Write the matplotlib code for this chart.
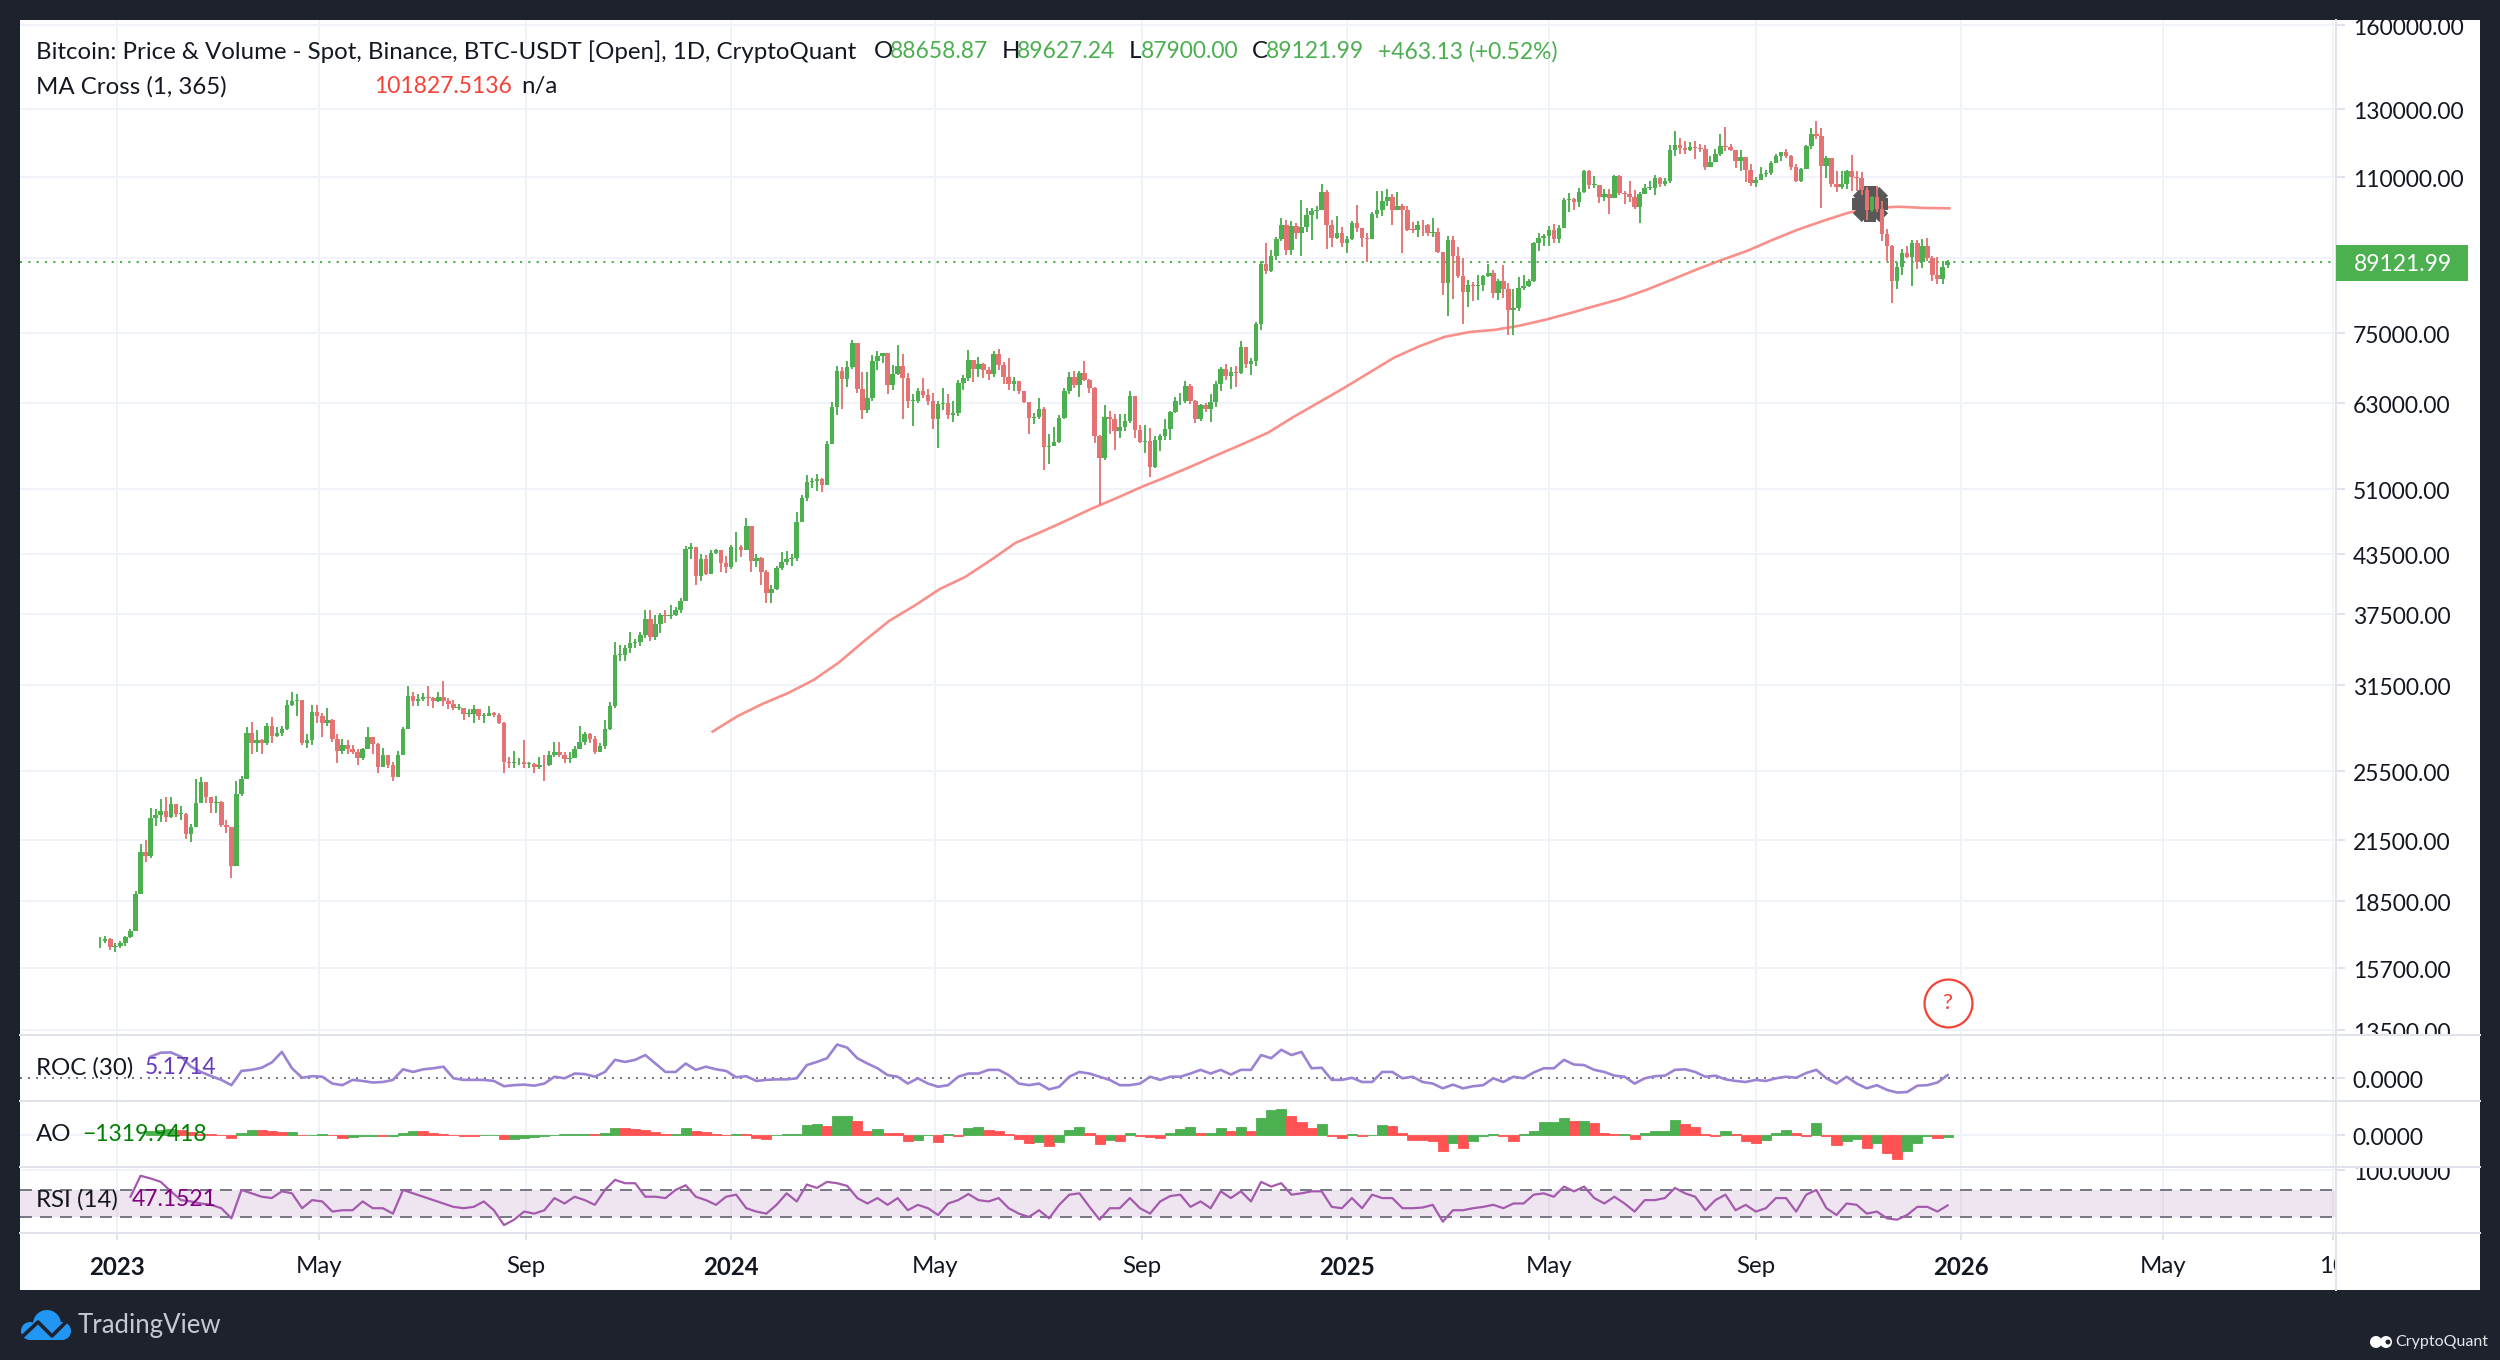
import numpy as np
import pandas as pd
import matplotlib
matplotlib.use("Agg")
import matplotlib.pyplot as plt
from matplotlib.patches import Rectangle, Circle
from matplotlib.lines import Line2D
from matplotlib.transforms import Affine2D, Bbox

# ---------- data (prices in thousands of USD, sampled every 3 days from the picture) ----------
first_day = "2022-12-22"
close_k = [16.8,16.85,16.55,16.6,
 16.7,16.95,17.2,18.85,20.9,20.7,22.7,22.9,23.1,22.8,
 23.5,22.95,22.95,21.85,22.2,23.6,24.8,23.9,23.55,
 23.65,22.35,22.2,20.2,24.1,25.0,28.0,27.3,27.5,27.3,28.5,
 27.8,28.0,28.3,30.0,30.3,30.4,27.3,27.5,29.5,29.2,
 28.7,28.9,27.6,26.8,27.2,26.9,26.75,26.3,26.9,27.7,
 27.25,25.75,26.5,25.9,25.1,26.5,28.3,30.7,30.3,30.45,
 30.6,30.5,30.3,30.6,30.3,30.1,29.8,29.8,29.35,29.35,
 29.7,29.2,29.2,29.4,29.3,28.7,26.05,26.0,26.05,26.1,25.95,
 25.95,25.75,25.9,25.85,26.55,26.75,26.55,26.25,26.35,26.95,
 27.4,27.95,27.6,26.75,27.15,28.3,29.9,33.9,33.9,34.5,
 34.9,35.0,35.6,37.1,35.5,36.6,37.45,37.3,37.45,37.85,
 38.7,44.0,44.2,41.2,43.0,41.4,43.6,43.9,42.5,42.1,
 44.2,44.2,43.9,46.6,42.8,43.1,41.6,39.5,39.9,42.0,42.6,
 43.0,43.1,47.1,49.9,51.9,52.1,52.3,51.6,57.0,
 62.4,68.3,66.9,68.9,73.1,65.3,62.0,63.8,69.9,70.8,71.3,
 65.9,67.8,69.1,67.1,63.4,63.4,64.9,64.3,63.4,60.6,
 62.9,63.1,61.2,61.5,66.2,67.0,70.1,68.5,69.4,68.4,
 67.7,71.1,69.3,67.3,66.0,66.5,64.9,63.2,60.8,60.9,
 62.1,56.6,56.7,57.3,60.8,65.0,67.2,65.9,67.9,66.8,
 65.4,58.1,55.1,60.9,60.6,58.9,59.5,60.4,64.2,59.0,57.3,
 57.5,53.9,57.6,58.1,59.2,61.7,63.3,63.3,65.8,63.3,
 60.7,62.8,62.1,63.2,66.1,68.5,67.4,68.1,67.9,72.3,
 69.4,70.0,76.6,88.7,87.2,90.6,94.3,97.7,91.9,97.4,
 95.8,97.2,100.2,101.2,101.4,106.1,97.8,94.7,95.8,93.5,
 94.5,98.1,96.9,94.7,94.5,100.5,101.3,103.7,104.8,101.3,102.4,
 101.4,96.6,96.5,97.8,97.6,95.8,96.1,91.5,84.7,
 94.2,90.6,86.1,82.9,84.3,84.0,84.2,86.1,86.9,82.6,
 85.2,83.5,79.2,79.6,83.6,84.0,85.2,93.4,94.6,95.0,
 96.5,94.3,97.0,104.0,104.1,103.5,106.0,111.7,107.8,107.8,104.6,
 105.5,104.3,110.2,105.7,105.5,104.8,102.1,105.5,107.0,107.1,
 109.6,108.2,108.9,117.5,119.0,118.0,117.5,118.4,118.0,117.8,
 112.6,114.2,116.5,118.7,118.4,117.4,114.3,115.4,111.8,108.4,
 109.2,110.7,111.1,113.9,115.9,116.8,115.7,112.7,109.0,112.1,
 118.6,122.3,121.5,113.0,115.2,108.2,107.2,108.0,111.6,110.0,109.6,
 106.5,101.3,104.7,101.6,95.6,92.9,85.1,88.2,91.3,90.4,
 93.4,89.2,92.7,90.2,86.4,85.5,88.2,89.12]
high_k = [16.95,17.0,16.9,16.7,
 16.8,17.0,17.3,19.0,21.3,21.5,23.3,23.2,23.8,23.9,
 23.9,23.5,23.4,23.0,22.4,25.0,25.1,24.6,23.9,
 24.0,23.7,22.6,22.1,24.9,25.2,28.4,28.8,28.2,27.6,28.7,
 29.1,28.4,28.5,30.4,31.0,30.8,30.4,27.9,30.0,30.0,
 29.4,29.8,29.0,27.9,27.6,27.5,27.2,26.9,27.0,28.4,
 27.4,27.3,27.0,26.3,26.1,26.8,28.4,31.4,31.0,30.8,
 30.9,31.4,30.6,31.0,31.8,30.5,30.4,30.1,29.7,29.7,
 30.0,29.7,29.4,29.9,29.5,29.4,28.8,26.4,26.8,26.3,27.5,
 26.1,26.0,26.4,26.5,26.8,27.4,27.4,26.7,26.7,27.1,
 28.5,28.1,28.0,27.8,27.3,28.9,30.2,35.0,34.8,34.8,
 35.9,35.3,35.9,37.9,37.9,37.4,37.6,37.9,38.4,38.2,
 39.0,44.4,44.7,44.0,43.5,43.4,43.9,44.0,43.8,43.3,
 44.5,45.9,44.5,47.5,46.3,43.5,43.2,41.8,40.3,42.2,43.7,
 43.8,43.5,48.2,50.3,52.8,52.5,52.9,52.5,57.5,
 63.2,69.0,68.9,69.9,73.7,71.3,68.1,68.0,71.0,71.6,71.4,
 71.3,69.2,72.7,71.2,67.9,64.5,65.4,67.1,65.2,64.7,
 63.3,65.5,64.4,63.4,66.7,67.6,71.9,70.0,70.6,69.5,
 68.9,71.7,72.0,69.8,70.5,67.3,66.5,65.0,62.4,61.6,
 63.8,62.4,58.5,59.4,61.3,65.5,68.0,68.3,68.2,70.0,
 66.9,65.6,58.3,62.7,61.9,61.4,61.4,61.4,65.0,64.2,59.8,
 59.8,59.3,58.1,58.5,60.7,61.9,64.0,64.6,66.5,66.0,
 63.5,62.9,63.0,64.4,66.5,68.9,69.4,68.9,69.0,73.5,
 71.5,70.5,77.0,89.5,93.4,91.8,94.9,99.5,98.8,98.7,
 98.3,104.0,101.9,101.9,102.5,108.2,106.5,99.0,99.9,97.2,
 95.0,98.7,102.7,97.0,95.9,100.9,106.3,106.3,106.7,105.5,106.0,
 102.8,102.4,98.5,98.7,98.8,98.0,99.4,97.0,89.3,
 95.0,95.0,92.5,90.0,85.3,85.0,86.5,86.3,88.7,87.5,
 85.5,88.5,84.7,83.5,85.9,86.4,85.5,93.8,95.7,95.6,
 97.4,97.9,97.7,104.4,105.7,104.5,107.0,111.9,111.9,110.3,106.8,
 106.7,106.8,110.6,110.4,106.3,108.9,106.5,106.1,108.0,108.8,
 110.5,110.0,109.7,118.9,123.2,120.9,120.2,119.7,120.0,119.2,
 118.9,115.8,117.7,122.3,124.5,119.3,117.6,117.4,113.5,113.5,
 109.9,112.6,112.0,114.3,116.3,117.0,117.9,116.0,113.4,112.3,
 118.9,123.9,126.2,124.1,115.9,113.5,111.5,111.7,112.0,116.0,111.6,
 111.2,107.3,105.0,107.5,103.7,96.8,93.0,89.2,92.0,92.9,
 94.1,94.2,94.5,94.6,90.5,90.3,89.4,89.63]
low_k = [16.5,16.7,16.4,16.35,
 16.5,16.6,16.9,17.3,18.9,20.4,20.6,22.3,22.5,22.5,
 22.7,22.8,22.6,21.6,21.4,22.2,23.8,23.6,23.0,
 23.0,22.2,21.9,19.6,20.8,24.0,25.0,26.6,26.7,26.6,27.2,
 27.3,27.7,27.8,28.2,29.9,29.2,27.2,27.0,27.2,28.7,
 27.7,28.5,27.4,26.0,26.6,26.6,26.6,25.9,26.2,27.6,
 26.6,25.4,26.2,25.7,24.9,26.2,26.6,28.4,29.9,29.9,
 30.3,29.9,29.8,30.2,29.9,29.7,29.6,29.6,28.9,29.1,
 28.7,28.9,28.7,29.2,29.1,28.6,25.4,25.7,25.7,25.9,25.7,
 25.7,25.4,25.6,24.9,25.8,26.4,26.4,26.0,26.0,26.3,
 26.9,27.2,27.3,26.6,26.8,26.9,28.2,29.8,33.4,33.4,
 34.1,34.5,34.7,35.4,35.1,35.2,35.8,36.7,37.1,37.3,
 37.6,38.8,43.0,40.3,40.7,41.3,41.4,43.5,41.6,41.5,
 41.9,42.6,43.2,43.9,41.6,42.1,40.3,38.6,38.6,39.8,41.8,
 42.3,42.2,42.8,47.0,49.5,51.2,50.8,50.6,51.5,
 57.0,61.3,62.2,65.6,68.6,64.6,60.7,61.5,63.4,68.4,69.6,
 64.5,65.1,67.5,60.6,62.3,59.6,63.1,63.9,62.8,59.2,
 56.5,62.0,60.7,60.2,61.1,65.1,66.6,66.4,67.2,67.1,
 66.8,67.2,68.4,66.1,65.1,64.9,64.4,63.0,58.4,59.9,
 60.6,53.5,54.3,56.7,57.2,60.6,64.5,65.4,64.0,66.5,
 64.6,57.2,49.1,54.8,58.4,56.2,57.8,58.8,60.0,57.9,57.2,
 55.7,52.6,53.7,56.0,57.6,57.6,61.5,62.7,63.0,62.9,
 60.0,60.4,61.7,60.2,62.5,65.0,66.8,65.3,65.6,67.7,
 68.8,67.5,69.0,75.5,86.7,87.0,89.6,94.0,90.8,90.8,
 94.5,90.5,96.0,94.2,99.2,101.4,92.2,92.5,94.4,92.5,
 91.3,94.2,96.1,92.5,89.2,94.3,99.5,99.9,102.3,97.8,101.5,
 91.2,96.2,95.7,94.8,95.2,95.0,94.9,91.3,82.3,
 78.2,81.5,85.7,76.6,79.9,81.1,81.2,83.1,85.9,81.6,
 81.3,81.6,74.5,74.6,79.0,83.2,83.9,85.0,91.7,92.9,
 92.9,93.5,93.4,97.0,100.8,101.5,102.1,105.7,106.8,107.1,103.1,
 103.7,100.4,104.9,105.2,103.0,103.5,101.6,98.3,106.4,106.6,
 105.1,107.4,107.5,108.4,115.7,116.4,116.5,117.3,115.0,116.9,
 111.9,112.6,114.3,115.9,117.2,117.2,112.4,111.7,108.7,107.5,
 107.3,109.4,110.0,110.6,113.9,114.4,115.1,111.9,108.6,108.7,
 112.6,117.9,120.6,102.0,109.6,107.4,106.1,106.8,106.8,106.3,106.3,
 105.3,98.9,100.8,100.8,94.0,89.4,80.6,83.5,86.3,90.2,
 84.0,87.7,88.0,89.4,85.2,84.5,84.6,87.9]
# 365-day moving average, every 15 days from 2023-12-21
ma_first_day = "2023-12-21"
ma365_k = [28.1,29.2,30.1,30.9,31.9,33.3,35.1,36.9,38.3,39.9,41.1,42.8,44.7,45.9,47.2,48.6,49.9,51.3,52.6,54.0,
 55.5,57.0,58.6,60.9,63.1,65.4,67.9,70.5,72.5,74.2,75.1,75.5,76.3,77.4,78.7,80.1,81.5,83.3,85.4,87.6,
 89.7,91.7,94.2,96.6,98.7,100.7,101.9,102.2,101.9,101.8]
# ROC(30) and AO sampled every 6 days from 2023-01-21; RSI every 6 days from 2023-01-09
roc_ao_first_day = "2023-01-21"
roc30 = [40,47.5,48,40,21,11,3,-4,-14,13,15,19,29,49,18,0,3,2,-11,-14,-4,-6,-9,-8,-4,16,11,16,18,21,-1,-4,-4,-4,-6,-16,-14,-13,-15,-11,2,-1,8,7,2,11,34,30,34,43,27,11,11,27,15,21,16,13,1,3,-6,-4,-3,-3,
 -1,24,30,37,63,57,37,27,18,5,2,-11,-1,-11,-17,-14,2,8,8,15,15,5,-11,-14,-11,-22,-17,2,11,8,2,-4,-14,-14,-11,2,-4,2,2,8,15,8,15,6,15,15,43,37,53,43,
 49,18,19,-4,-4,0,-8,-8,11,11,-1,2,-8,-11,-20,-13,-20,-16,-14,-1,-8,2,-1,10,18,18,34,25,24,15,11,4,2,-11,-1,3,4,15,16,11,2,4,-3,-6,-8,-4,-6,-1,2,0,9,15,-1,-11,2,-11,-20,-14,-23,-28,-27,-15,-14,-9,5.17]
ao = [1800,2500,3000,2200,1200,500,200,-200,-1800,800,2500,2200,1700,1300,1300,-300,-300,100,-300,-1700,-1200,-800,-500,-800,-500,800,1800,1700,800,200,-200,-700,-800,-300,-300,-2300,-2200,-1800,-1300,-700,-200,100,100,500,200,800,3500,3200,3000,2200,1300,100,500,3500,1800,1200,200,-200,500,100,-1500,-2200,-300,100,
 500,5000,5300,4200,9200,9500,6700,1700,3000,800,700,-3300,-2500,-100,-3700,300,-800,3300,3700,2200,1700,300,-2000,-4200,-3700,-5800,-3700,2500,3800,800,-4500,-2500,-3000,800,-800,-1300,-1700,800,2800,3800,800,800,3300,1700,3800,1700,8300,12400,12900,9200,
 6300,3300,5300,-800,-1700,300,-800,-100,5000,4200,800,-2500,-2800,-3000,-8300,-4200,-6700,-3300,-800,300,-800,-3000,300,1700,6300,6300,8300,7000,7000,5800,800,100,300,-2000,800,1700,1700,7500,5300,3700,500,-800,1700,100,-3300,-4200,-2800,800,2200,800,-500,6000,-800,-5000,-3300,-2000,-6700,-4200,-9200,-12000,-8300,-4200,-800,-1700,-1320]
rsi_first_day = "2023-01-09"
rsi14 = [60,91,87,82,68,55,53,50,48,43,28,70,65,60,58,68,65,43,55,53,38,40,40,53,43,43,35,70,65,60,55,50,45,43,45,53,40,18,26,38,35,40,58,50,60,55,48,70,85,80,80,60,60,58,70,77,60,55,48,60,63,43,38,35,48,65,
 53,78,73,82,80,76,58,50,58,48,58,40,48,43,33,50,55,64,55,53,58,43,35,30,40,28,48,63,65,45,26,43,43,58,43,35,53,61,63,45,53,43,68,58,68,53,82,75,80,63,
 65,68,68,45,43,58,43,63,58,58,43,43,44,48,23,40,40,43,45,48,43,50,50,63,65,60,75,68,75,58,50,60,50,38,55,55,58,73,65,60,40,55,63,40,48,38,43,58,58,38,63,70,43,33,50,48,35,38,28,26,33,45,45,38,47.15]

price_ticks = [160000,130000,110000,90000,75000,63000,51000,43500,37500,31500,25500,21500,18500,15700,13500]
price_tick_labels = ["160000.00","130000.00","110000.00","","75000.00","63000.00","51000.00","43500.00","37500.00","31500.00","25500.00","21500.00","18500.00","15700.00","13500.00"]
time_ticks = ["2023-01-01","2023-05-01","2023-09-01","2024-01-01","2024-05-01","2024-09-01","2025-01-01","2025-05-01","2025-09-01","2026-01-01","2026-05-01","2026-08-10"]
time_labels = ["2023","May","Sep","2024","May","Sep","2025","May","Sep","2026","May","10"]
last_close = 89121.99
cross_day = "2025-11-08"
cross_price = 103000
note_day = "2025-12-24"
note_price = 14400

# ---------- styles ----------
FONT = ["Lato", "DejaVu Sans"]
plt.rcParams["font.family"] = FONT
DARK, INK = "#1E222D", "#131722"
GREEN, RED, AO_GREEN, AO_RED = "#4CAF50", "#E57373", "#4CAF50", "#FF5252"
GRID, BORDER = "#F0F3FA", "#E0E3EB"
FS, NUM = 17.3, 16.5
W, H = 2500, 1360

fig = plt.figure(figsize=(W/100, H/100), dpi=100, facecolor=DARK)
PX = Affine2D().scale(1/W, -1/H).translate(0, 1) + fig.transFigure

def pane(y0, y1):
    ax = fig.add_axes([20/W, 1-y1/H, (2336-20)/W, (y1-y0)/H], facecolor="none")
    for s in ax.spines.values():
        s.set_visible(False)
    t0 = pd.Timestamp("2023-01-01")
    ax.set_xlim(t0 - pd.Timedelta(days=97/1.6825), t0 + pd.Timedelta(days=2219/1.6825))
    ax.set_xticks(pd.to_datetime(time_ticks))
    ax.set_xticklabels([])
    ax.tick_params(axis="x", length=0)
    ax.grid(True, axis="both", color=GRID, lw=1.44, zorder=0)
    ax.set_axisbelow(True)
    ax.yaxis.tick_right()
    ax.tick_params(axis="y", length=6.5, width=1.44, color=BORDER, labelcolor=INK, labelsize=NUM, pad=5.5)
    return ax

def clip_ylabels(ax, y0, y1):
    box = Bbox([[0, H-y1], [W, H-y0]])
    for lab in ax.yaxis.get_ticklabels():
        lab.set_clip_on(True)
        lab.set_clip_box(box)
        lab.set_transform(lab.get_transform() + Affine2D().translate(0, -1.5))

fig.add_artist(Rectangle((20, 20), 2460, 1270, transform=PX, fc="white", ec="none", zorder=-1))

# price pane
ax = pane(20, 1035)
ax.set_yscale("log")
ax.set_ylim(13320, 161800)
ax.minorticks_off()
ax.set_yticks(price_ticks)
ax.set_yticklabels(price_tick_labels)
ax.minorticks_off()
clip_ylabels(ax, 20, 1035)

dates = pd.date_range(first_day, periods=len(close_k), freq="3D")
c = np.array(close_k)*1000
o = np.r_[c[0]*0.998, c[:-1]]
o[-1] = 88658.87
hi = np.maximum(np.array(high_k)*1000, np.maximum(o, c))
lo = np.minimum(np.array(low_k)*1000, np.minimum(o, c))
cols = [GREEN if a >= b else RED for a, b in zip(c, o)]

ma_dates = pd.date_range(ma_first_day, periods=len(ma365_k), freq="15D")
ax.plot(ma_dates, np.array(ma365_k)*1000, color="#F77C75", alpha=0.85, lw=1.9, zorder=3)
for mk in ("P", "X"):
    ax.scatter(pd.to_datetime([cross_day]), [cross_price], marker=mk, s=640, color="#585858", lw=0, zorder=3.5)
ax.vlines(dates, lo, hi, colors=cols, lw=1.35, zorder=4)
ax.bar(dates, np.maximum(np.abs(c-o), c*0.002), bottom=np.minimum(o, c), width=2.7, color=cols, lw=0, zorder=4)
ax.axhline(last_close, color=GREEN, lw=1.5, ls=(0, (1, 3)), zorder=2)
ax.scatter(pd.to_datetime([note_day]), [note_price], s=1190, fc="white", ec="#F44336", lw=1.6, zorder=6)
ax.annotate("?", (pd.Timestamp(note_day), note_price), ha="center", va="center", color="#F44336", fontsize=16, zorder=7)

# ROC pane
ax_roc = pane(1035, 1101)
ax_roc.set_ylim(-44, 81)
ax_roc.set_yticks([0]); ax_roc.set_yticklabels(["0.0000"])
ax_roc.grid(False, axis="y")
ax_roc.axhline(0, color="#787B86", lw=1.44, ls=(0, (1, 3)), zorder=1)
roc_dates = pd.date_range(roc_ao_first_day, periods=len(roc30), freq="6D")
ax_roc.plot(roc_dates, roc30, color="#9B82D2", lw=1.9, zorder=3)

# AO pane
ax_ao = pane(1101, 1167)
ax_ao.set_ylim(-16150, 16850)
ax_ao.set_yticks([0]); ax_ao.set_yticklabels(["0.0000"])
ao_dates = pd.date_range(roc_ao_first_day, periods=len(ao), freq="6D")
ao_arr = np.array(ao)
ao_cols = [AO_GREEN] + [AO_GREEN if b >= a else AO_RED for a, b in zip(ao_arr[:-1], ao_arr[1:])]
ax_ao.bar(ao_dates, ao_arr, width=6, color=ao_cols, edgecolor=ao_cols, lw=0.6, zorder=3)

# RSI pane
ax_rsi = pane(1167, 1233)
ax_rsi.set_ylim(6.3, 104)
ax_rsi.set_yticks([100]); ax_rsi.set_yticklabels(["100.0000"])
ax_rsi.axhspan(30, 70, color="#7E2F8E", alpha=0.12, lw=0, zorder=1)
for v in (70, 30):
    ax_rsi.axhline(v, color="#787B86", lw=1.44, ls=(0, (6, 4)), zorder=2)
rsi_dates = pd.date_range(rsi_first_day, periods=len(rsi14), freq="6D")
ax_rsi.plot(rsi_dates, rsi14, color="#A45AAD", lw=1.6, zorder=3)
ax_rsi.set_xticklabels(time_labels)
ax_rsi.tick_params(axis="x", length=5, width=1.44, color=BORDER, labelcolor=INK, labelsize=FS, pad=11.5)
box = Bbox([[0, 0], [2336, H]])
for lab, s in zip(ax_rsi.xaxis.get_ticklabels(), time_labels):
    lab.set_clip_on(True)
    lab.set_clip_box(box)
    if s.isdigit() and len(s) == 4:
        lab.set_fontweight("bold")

clip_ylabels(ax_ao, 1101, 1167)
clip_ylabels(ax_roc, 1035, 1101)
clip_ylabels(ax_rsi, 1167, 1233)

# pane borders
for y in (1035, 1101, 1167, 1233):
    fig.add_artist(Line2D([20, 2480], [y, y], transform=PX, color=BORDER, lw=1.44, zorder=4))
fig.add_artist(Line2D([2336, 2336], [20, 1290], transform=PX, color=BORDER, lw=1.44, zorder=4))

def label(x, y, s, color=INK, size=FS, **kw):
    fig.text(x, y + 1.7, s, transform=PX, color=color, fontsize=size, va="center", ha=kw.pop("ha", "left"), zorder=8, **kw)

# last price tag
fig.add_artist(Rectangle((2336, 245), 132, 36, transform=PX, fc=GREEN, ec="none", zorder=7))
label(2354, 263, f"{last_close:.2f}", color="white", size=NUM)

# legends
label(36, 50, "Bitcoin: Price & Volume - Spot, Binance, BTC-USDT [Open], 1D, CryptoQuant")
for x, s, col in [(874, "O", INK), (890, "88658.87", GREEN), (1002, "H", INK), (1017, "89627.24", GREEN),
                  (1129, "L", INK), (1141, "87900.00", GREEN), (1252, "C", INK), (1266, "89121.99", GREEN),
                  (1378, "+463.13 (+0.52%)", GREEN)]:
    label(x, 50, s, color=col, size=NUM if col == GREEN else FS)
label(36, 85, "MA Cross (1, 365)")
label(374, 85, "101827.5136", color="#F44336", size=NUM)
label(521, 85, "n/a")
label(36, 1066, "ROC (30)")
label(145, 1066, "5.1714", color="#673AB7", size=NUM)
label(36, 1133, "AO")
label(82, 1133, "\u22121319.9418", color="#008000", size=NUM)
label(36, 1198, "RSI (14)")
label(132, 1198, "47.1521", color="#800080", size=NUM)

# TradingView logo
BLUE = "#2196F3"
for (cx, cy, r) in [(30, 1331, 9), (47, 1324, 14), (62, 1331, 9)]:
    fig.add_artist(Circle((cx, cy), r, transform=PX, fc=BLUE, ec="none", zorder=5))
fig.add_artist(Rectangle((30, 1328), 32, 12, transform=PX, fc=BLUE, ec="none", zorder=5))
fig.add_artist(Line2D([22, 38, 52, 69], [1337, 1322, 1336, 1319], transform=PX, color=DARK, lw=2.6, zorder=6))
label(78, 1324, "TradingView", color="#C6C9D1", size=18.5)

# CryptoQuant logo
for (cx, r) in [(2376, 6), (2386, 6)]:
    fig.add_artist(Circle((cx, 1342), r, transform=PX, fc="white", ec="none", zorder=5))
fig.add_artist(Circle((2388, 1342), 2.5, transform=PX, fc=DARK, ec="none", zorder=6))
label(2395, 1340, "CryptoQuant", color="#E6E7EA", size=11.5)

fig.savefig("out.png", dpi=100, facecolor=DARK)
